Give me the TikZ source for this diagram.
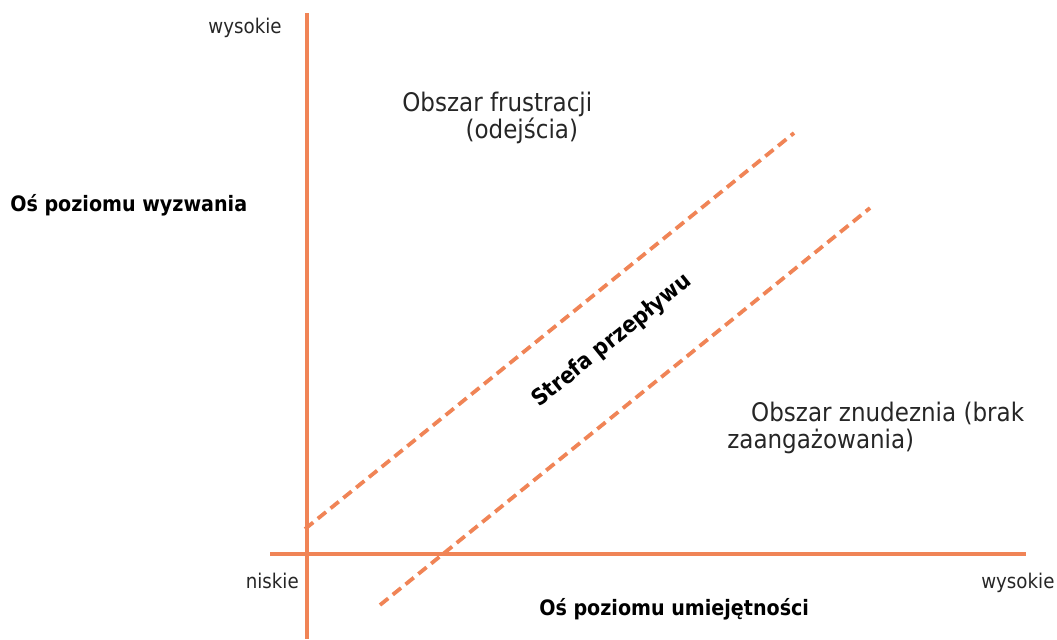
\documentclass[tikz,border=0pt]{standalone}
\usepackage{fontspec}
\setmainfont{DejaVu Sans}[FakeStretch=0.9]
\definecolor{pomarancz}{RGB}{240,132,86}

\begin{document}
\begin{tikzpicture}[x=0.025cm, y=-0.025cm]
% définition des styles
\tikzstyle{axe}=[line width=2.6pt, color=pomarancz]
\tikzstyle{limite}=[line width=2.7pt, color=pomarancz, dash pattern=on 7.5pt off 4.2pt]
\tikzstyle{petit}=[inner sep=0pt, font=\fontsize{14.4}{16}\selectfont, text=black!85]
\tikzstyle{titre}=[inner sep=0pt, font=\bfseries\fontsize{15.1}{17}\selectfont]
\tikzstyle{zone}=[inner sep=0pt, align=left, font=\fontsize{18.2}{19.5}\selectfont, text=black!85]

\useasboundingbox (0,0) rectangle (1057,639);

% les axes
\coordinate (Yhaut) at (307,13);
\coordinate (Ybas) at (307,639);
\coordinate (Xg) at (270,554);
\coordinate (Xd) at (1026,554);
\draw[axe] (Yhaut)--(Ybas);
\draw[axe] (Xg)--(Xd);

% les limites de la strefa
\coordinate (A1) at (305,529);
\coordinate (A2) at (794,133);
\coordinate (B1) at (380,605);
\coordinate (B2) at (870,208);
\draw[limite] (A1)--(A2);
\draw[limite] (B1)--(B2);

% les nœuds
\node[petit, anchor=base] (Ywys) at (245,33) {wysokie};
\node[petit, anchor=base east] (nis) at (299,588) {niskie};
\node[petit, anchor=base west] (Xwys) at (981,588) {wysokie};
\node[titre, anchor=base west] (Yos) at (10,211) {Oś poziomu wyzwania};
\node[titre, anchor=base west] (Xos) at (539,615) {Oś poziomu umiejętności};
\node[zone, anchor=north west] (frus) at (402,91.5) {Obszar frustracji\\\hspace*{45pt}(odejścia)};
\node[zone, anchor=north west] (nud) at (727,401.5) {\hspace*{17pt}Obszar znudeznia (brak\\zaangażowania)};
\node[titre, font=\bfseries\fontsize{16.1}{18}\selectfont, rotate=39] (flow) at (612,341) {Strefa przepływu};
\end{tikzpicture}
\end{document}
